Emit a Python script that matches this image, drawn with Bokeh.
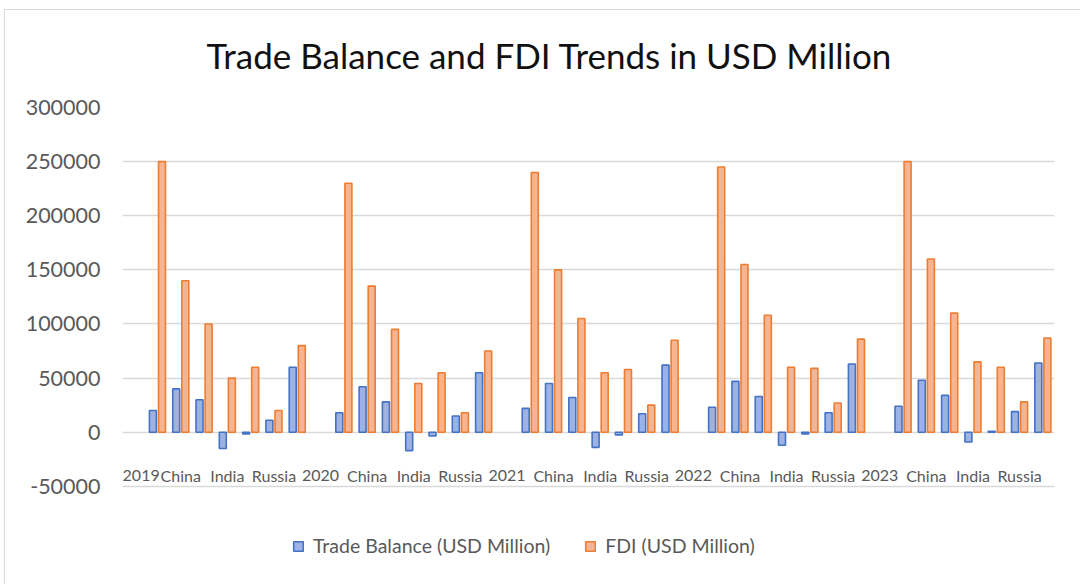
import math
from bokeh.plotting import figure
from bokeh.models import (FixedTicker, NumeralTickFormatter, Legend, LegendItem,
                          ColumnDataSource, Range1d)
from bokeh.core.properties import value
from bokeh.transform import dodge
from bokeh.embed import file_html
from bokeh.resources import INLINE

# ---- data ----
years = ["2019", "2020", "2021", "2022", "2023"]
# per-year slots: year heading + 7 country slots; only every other label is shown
slot_labels = ["", "", "China", "", "India", "", "Russia", ""]

trade_2019 = [20000, 40000, 30000, -15000, -1500, 11000, 60000]
trade_2020 = [18000, 42000, 28000, -17000, -3500, 15000, 55000]
trade_2021 = [22000, 45000, 32000, -14000, -2500, 17000, 62000]
trade_2022 = [23000, 47000, 33000, -12000, -1500, 18000, 63000]
trade_2023 = [24000, 48000, 34000, -9000, 800, 19000, 64000]

fdi_2019 = [250000, 140000, 100000, 50000, 60000, 20000, 80000]
fdi_2020 = [230000, 135000, 95000, 45000, 55000, 18000, 75000]
fdi_2021 = [240000, 150000, 105000, 55000, 58000, 25000, 85000]
fdi_2022 = [245000, 155000, 108000, 60000, 59000, 27000, 86000]
fdi_2023 = [250000, 160000, 110000, 65000, 60000, 28000, 87000]

y_ticks = [-50000, 0, 50000, 100000, 150000, 200000, 250000, 300000]

trade = [trade_2019, trade_2020, trade_2021, trade_2022, trade_2023]
fdi = [fdi_2019, fdi_2020, fdi_2021, fdi_2022, fdi_2023]

# ---- category positions ----
n_slots = len(slot_labels)
xs, tb, fd = [], [], []
for yi in range(len(years)):
    for ci in range(len(trade[yi])):
        xs.append(yi * n_slots + 1 + ci)
        tb.append(trade[yi][ci])
        fd.append(fdi[yi][ci])

lab_x, lab_t = [], []
for yi, yr in enumerate(years):
    lab_x.append(yi * n_slots)
    lab_t.append(yr)
    for si, lab in enumerate(slot_labels):
        if lab:
            lab_x.append(yi * n_slots + si)
            lab_t.append(lab)

n_cat = len(years) * n_slots
src = ColumnDataSource(dict(x=xs, tb=tb, fd=fd))

FONT = "Lato"
GREY = "#595959"
LINE = "#d9d9d9"
LABEL_DROP_PX = 43            # label centres sit this far below the zero line
PX_PER_UNIT = 324.7 / 300000  # frame scale (pixels per data unit)
# labels centred on their category; the first one nudged inside the plot area
x_offsets = [0] * len(lab_x)
x_offsets[0] = 7
lab_src = ColumnDataSource(dict(x=lab_x,
                                y=[-LABEL_DROP_PX / PX_PER_UNIT] * len(lab_x),
                                t=lab_t, dx=x_offsets))

# frame runs from the 300000 line down to the bottom of the picture;
# the lower part (below -50000) holds the category labels and the legend
p = figure(width=1080, height=584, output_backend="svg", toolbar_location=None,
           x_range=Range1d(-0.5, n_cat - 0.5), y_range=Range1d(-140700, 300000),
           x_axis_location=None,
           min_border_left=122, min_border_right=26, min_border_top=107,
           min_border_bottom=0, background_fill_color="white",
           border_fill_color=None)
p.outline_line_color = None
p.styles = {
    "background": (f"linear-gradient({LINE},{LINE}) 4px 9px / 1px 580px no-repeat, "
                   f"linear-gradient({LINE},{LINE}) 4px 9px / 1080px 1px no-repeat, white")
}

p.title.text = "Trade Balance and FDI Trends in USD Million"
p.title.align = "left"
p.title.offset = 84
p.title.text_font = FONT
p.title.text_font_size = "35px"
p.title.text_font_style = "normal"
p.title.text_color = "#111111"
p.title.standoff = 63

p.xgrid.visible = False
p.ygrid.grid_line_color = LINE
p.ygrid.grid_line_width = 1.4

ya = p.yaxis[0]
ya.ticker = FixedTicker(ticks=y_ticks)
ya.formatter = NumeralTickFormatter(format="0")
ya.axis_line_color = None
ya.major_tick_line_color = None
ya.minor_tick_line_color = None
ya.major_label_text_font = FONT
ya.major_label_text_font_size = "21.5px"
ya.major_label_text_color = GREY
ya.major_label_standoff = 16

# category labels below the zero line
p.text(x="x", y="y", text="t", source=lab_src, x_offset="dx",
       text_align="center", text_baseline="middle",
       text_font=value(FONT), text_font_size="16px", text_color=GREY)

off = 0.195
r1 = p.vbar(x=dodge("x", -off, range=p.x_range), top="tb", bottom=0, width=0.3,
            source=src, fill_color="#9db2e3", line_color="#4472c4", line_width=1.6)
r2 = p.vbar(x=dodge("x", off, range=p.x_range), top="fd", bottom=0, width=0.3,
            source=src, fill_color="#f6b491", line_color="#ed7d31", line_width=1.6)

legend = Legend(items=[LegendItem(label="Trade Balance (USD Million)", renderers=[r1]),
                       LegendItem(label="FDI (USD Million)", renderers=[r2])],
                location=(170, 27), orientation="horizontal",
                label_text_font=FONT, label_text_font_size="19.5px",
                label_text_color=GREY, glyph_width=12, glyph_height=12,
                label_standoff=9, spacing=34, padding=0, margin=0,
                border_line_color=None, background_fill_alpha=0)
p.add_layout(legend)

open("out.html", "w").write(file_html(p, INLINE))
